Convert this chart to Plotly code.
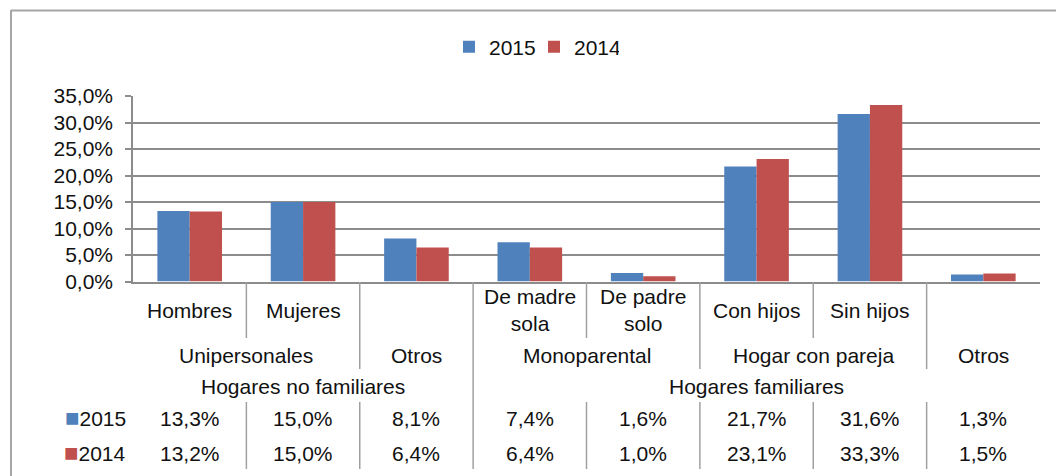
import plotly.graph_objects as go

# ---- data ----
sub_labels = ["Hombres", "Mujeres", "", "De madre<br>sola", "De padre<br>solo", "Con hijos", "Sin hijos", ""]
mid_labels = ["Unipersonales", "Otros", "Monoparental", "Hogar con pareja", "Otros"]
mid_spans = [(0, 1), (2, 2), (3, 4), (5, 6), (7, 7)]
top_labels = ["Hogares no familiares", "Hogares familiares"]
top_spans = [(0, 2), (3, 7)]
series_names = ["2015", "2014"]
values_2015 = [13.3, 15.0, 8.1, 7.4, 1.6, 21.7, 31.6, 1.3]
values_2014 = [13.2, 15.0, 6.4, 6.4, 1.0, 23.1, 33.3, 1.5]
colors = ["#4F81BD", "#C0504D"]

W, H = 1056, 476
FONT = "Liberation Sans, Arial, Helvetica, sans-serif"
FS = 21
TXT = "#111111"
GRID = "#8c8c8c"
SEP = "#a0a0a0"


def py(p):
    return 1 - p / H


n = len(values_2015)
xs = list(range(n))

fig = go.Figure()
for name, vals, col in zip(series_names, [values_2015, values_2014], colors):
    fig.add_trace(go.Bar(x=xs, y=vals, name=name, marker=dict(color=col, line=dict(width=0))))

ann = []
shapes = []

def fmt(v):
    return f"{v:.1f}".replace(".", ",") + "%"

# level 1 labels
for i, lab in enumerate(sub_labels):
    if lab:
        ann.append(dict(x=i, y=py(310), text=lab, xref="x", yref="paper", showarrow=False,
                        xanchor="center", yanchor="middle"))
# level 2
for lab, (a, b) in zip(mid_labels, mid_spans):
    ann.append(dict(x=(a + b) / 2, y=py(355), text=lab, xref="x", yref="paper", showarrow=False,
                    xanchor="center", yanchor="middle"))
# level 3
for lab, (a, b) in zip(top_labels, top_spans):
    ann.append(dict(x=(a + b) / 2, y=py(386), text=lab, xref="x", yref="paper", showarrow=False,
                    xanchor="center", yanchor="middle"))
# data table
for r, (name, vals, col) in enumerate(zip(series_names, [values_2015, values_2014], colors)):
    yy = py(418 + r * 35)
    ann.append(dict(x=-0.5, y=yy, text=f'<span style="color:{col};font-size:24px">■</span>{name}',
                    xref="x", yref="paper", showarrow=False, xanchor="right", yanchor="middle",
                    xshift=-5, yshift=1))
    for i, v in enumerate(vals):
        ann.append(dict(x=i, y=yy, text=fmt(v), xref="x", yref="paper", showarrow=False,
                        xanchor="center", yanchor="middle"))

def vline(x, y0, y1):
    shapes.append(dict(type="line", xref="x", yref="paper", x0=x, x1=x, y0=py(y0), y1=py(y1),
                       line=dict(color=SEP, width=1.5)))

mid_bounds = {b + 0.5 for (a, b) in mid_spans[:-1]}
top_bounds = {b + 0.5 for (a, b) in top_spans[:-1]}
for i in range(n - 1):
    xb = i + 0.5
    if xb in top_bounds:
        vline(xb, 282, 469)
    else:
        vline(xb, 282, 369 if xb in mid_bounds else 338)
        vline(xb, 402, 469)

# outer border (left and top)
shapes.append(dict(type="line", xref="paper", yref="paper", x0=11 / W, x1=11 / W, y0=py(10), y1=0,
                   line=dict(color="#a6a6a6", width=2)))
shapes.append(dict(type="line", xref="paper", yref="paper", x0=11 / W, x1=1, y0=py(10.5), y1=py(10.5),
                   line=dict(color="#a6a6a6", width=2)))

fig.update_layout(
    width=W, height=H, autosize=False,
    margin=dict(l=0, r=0, t=0, b=0, autoexpand=False),
    paper_bgcolor="white", plot_bgcolor="white",
    separators=",.",
    font=dict(family=FONT, size=FS, color=TXT),
    barmode="group", bargap=0.43, bargroupgap=0,
    showlegend=True,
    legend=dict(orientation="h", x=449 / W, xanchor="left", y=py(47), yanchor="middle",
                font=dict(size=FS), itemwidth=30, entrywidth=40, entrywidthmode="pixels",
                traceorder="normal", bgcolor="rgba(0,0,0,0)", borderwidth=0),
    xaxis=dict(domain=[133 / W, 1040 / W], range=[-0.5, n - 0.5], showticklabels=False, showgrid=False,
               zeroline=False, showline=True, linecolor=GRID, linewidth=1.5, ticks="", fixedrange=True,
               automargin=False),
    yaxis=dict(domain=[py(281.5), py(96)], range=[0, 35], dtick=5, tickformat=".1f", ticksuffix="%",
               showgrid=True, gridcolor=GRID, gridwidth=1.5, zeroline=False, showline=True, linecolor=GRID,
               linewidth=1.5, ticks="outside", ticklen=6, tickcolor=GRID, tickwidth=1.5,
               ticklabelstandoff=8, tickfont=dict(size=FS, color=TXT), automargin=False),
    annotations=ann,
    shapes=shapes,
)

fig.write_html("out.html", config={"displayModeBar": False},
               post_script="document.body.style.margin='0';document.body.style.overflow='hidden';")
